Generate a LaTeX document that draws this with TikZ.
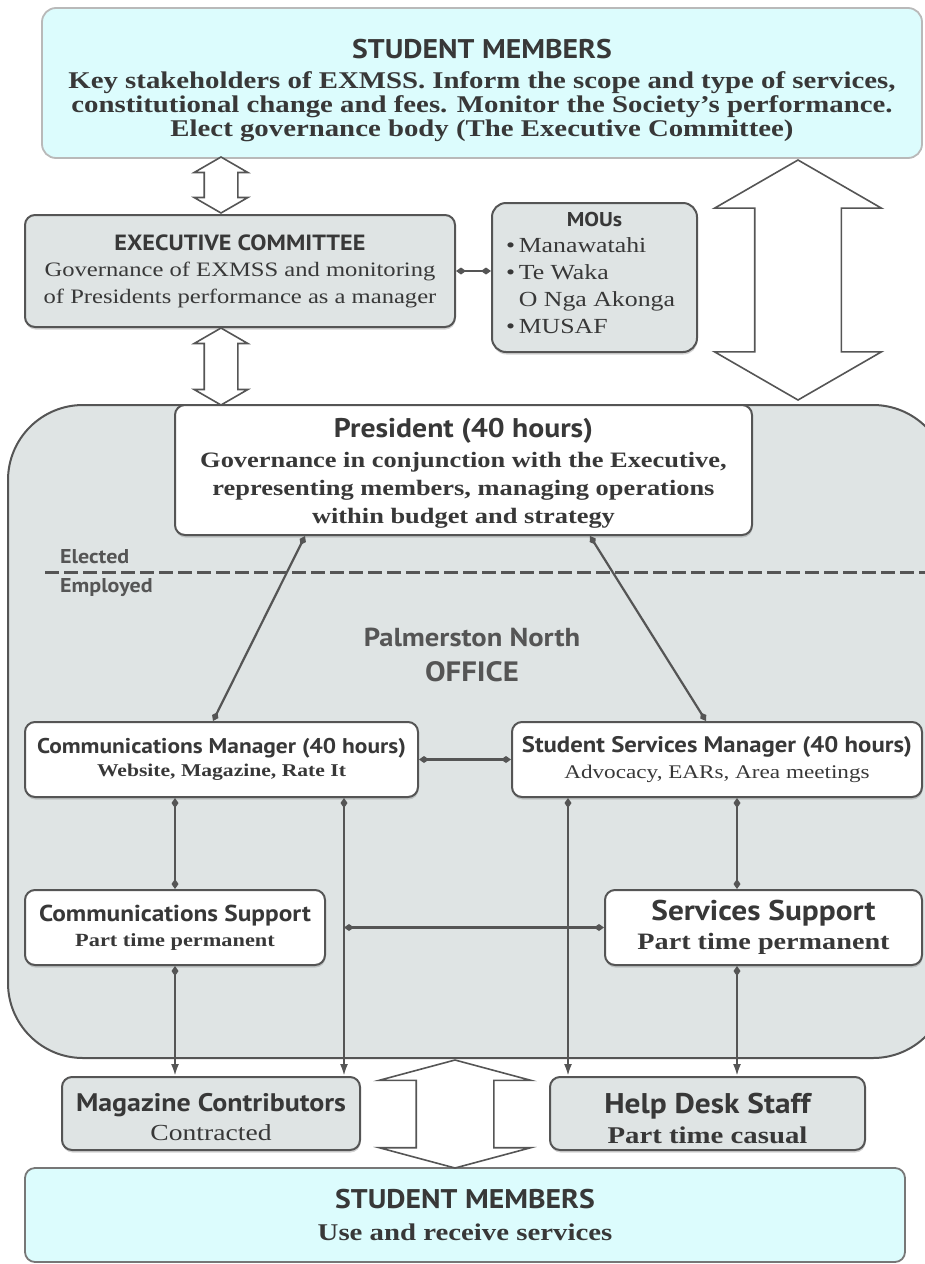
\documentclass[tikz,border=0pt]{standalone}
\usepackage{fontspec}
\setmainfont[FakeStretch=1.2]{Liberation Serif}
\newfontfamily\hdfont[FakeStretch=1.1]{PT Sans}
\usetikzlibrary{positioning,arrows.meta,shapes.arrows,shadows}
\definecolor{memcyan}{HTML}{DCFCFD}
\definecolor{offgray}{HTML}{DFE4E4}
\definecolor{linegray}{HTML}{555555}
\definecolor{txtgray}{HTML}{383838}

\begin{document}
\begin{tikzpicture}[x=1pt,y=-1pt,
  every node/.style={text=txtgray,align=center,inner sep=0pt},
  box/.style={draw=linegray,line width=2pt,rounded corners=10pt,drop shadow={shadow xshift=0.5pt,shadow yshift=-2.5pt,opacity=0.35}},
  graybox/.style={box,fill=offgray},
  whitebox/.style={box,fill=white},
  membox/.style={draw=gray!55,line width=1.8pt,rounded corners=14pt,fill=memcyan},
  txt/.style={font=\fontsize{#1}{#1}\selectfont},
  btxt/.style={font=\bfseries\fontsize{#1}{#1}\selectfont},
  link/.style={draw=linegray,line width=2.2pt,{Diamond[length=10pt,width=7pt]}-{Diamond[length=10pt,width=7pt]}},
  feed/.style={draw=linegray,line width=2.2pt,{Diamond[length=10pt,width=7pt]}-{Latex[length=12pt,width=8pt]}},
  fatarrow/.style={double arrow,draw=linegray,fill=white,line width=1.6pt,rotate=90,inner xsep=0pt,minimum width=0pt}]
\clip (0,0) rectangle (925,1264);

% office background
\node[draw=linegray,fill=offgray,line width=2pt,rounded corners=75pt,minimum width=940pt,minimum height=653pt] (office) at (478,731.5) {};
\node[anchor=west,text=linegray,font=\hdfont\bfseries\fontsize{20}{20}\selectfont] (elected) at (60,557) {Elected};
\node[anchor=west,text=linegray,font=\hdfont\bfseries\fontsize{20}{20}\selectfont] (employed) at (60,588) {Employed};
\draw[linegray,line width=3pt,dash pattern=on 14pt off 5pt] (45,572) coordinate (cutl) -- (925,572) coordinate (cutr);
\node[text=linegray,font=\hdfont\bfseries\fontsize{26}{35}\selectfont] (pnoffice) at (472,655) {Palmerston North\\{\fontsize{28}{35}\selectfont OFFICE}};

% members and governance
\node[membox,minimum width=880pt,minimum height=150pt,btxt=24] (topmem) at (482,83)
  {{\hdfont\fontsize{27}{27}\selectfont\rule{0pt}{34pt}STUDENT MEMBERS}\\[6pt]
   Key stakeholders of EXMSS. Inform the scope and type of services,\\
   constitutional change and fees. Monitor the Society’s performance.\\
   Elect governance body (The Executive Committee)};
\node[graybox,minimum width=430pt,minimum height=112pt,txt=20.5] (exec) at (240,271)
  {{\hdfont\bfseries\fontsize{22}{22}\selectfont EXECUTIVE COMMITTEE}\\[6pt]
   Governance of EXMSS and monitoring\\[6pt]
   of Presidents performance as a manager};
\node[graybox,rounded corners=14pt,minimum width=205pt,minimum height=149pt] (mous) at (594.5,277.5) {};
\node[below=10pt of mous.north,font=\hdfont\bfseries\fontsize{20}{20}\selectfont] (moustitle) {MOUs};
\node[anchor=north west,align=left,font=\fontsize{21.5}{27}\selectfont] (mouslist) at ([xshift=15pt,yshift=-35pt]mous.north west)
  {•\,Manawatahi\\
   •\,Te Waka\\
   \hphantom{•\,}O Nga Akonga\\
   •\,MUSAF};
\draw[link] (exec.east) -- (exec.east -| mous.west);

% office
\node[whitebox,minimum width=577pt,minimum height=130pt,btxt=22] (pres) at (463.5,470)
  {{\hdfont\fontsize{27}{27}\selectfont\rule{0pt}{26pt}President (40 hours)}\\[8pt]
   Governance in conjunction with the Executive,\\[6pt]
   representing members, managing operations\\[6pt]
   within budget and strategy};
\node[whitebox,minimum width=393pt,minimum height=75pt,btxt=18] (cmgr) at (221.5,759.5)
  {{\hdfont\fontsize{21.3}{22}\selectfont Communications Manager (40 hours)}\\[5pt]
   Website, Magazine, Rate It};
\node[whitebox,minimum width=410pt,minimum height=75pt,txt=19.3] (smgr) at (717,759.5)
  {{\hdfont\bfseries\fontsize{22.5}{22}\selectfont Student Services Manager (40 hours)}\\[6pt]
   Advocacy, EARs, Area meetings};
\node[whitebox,minimum width=300pt,minimum height=75pt,btxt=18.6] (csup) at (175,927.5)
  {{\hdfont\fontsize{23}{22}\selectfont Communications Support}\\[6pt]
   Part time permanent};
\node[whitebox,minimum width=317pt,minimum height=75pt,btxt=23.5] (ssup) at (763.5,927.5)
  {{\hdfont\fontsize{28.5}{26}\selectfont Services Support}\\[6pt]
   Part time permanent};
\coordinate (cline) at ([xshift=122.5pt]cmgr.south);
\coordinate (sline) at ([xshift=-149pt]smgr.south);

% outside helpers and members
\node[graybox,minimum width=298pt,minimum height=73pt,txt=23] (mag) at (211,1113.5)
  {{\hdfont\bfseries\fontsize{25.4}{24}\selectfont\rule{0pt}{26pt}Magazine Contributors}\\[6pt]
   Contracted};
\node[graybox,minimum width=315pt,minimum height=73pt,btxt=24] (help) at (707.5,1113.5)
  {{\hdfont\fontsize{28.5}{26}\selectfont\rule{0pt}{30pt}Help Desk Staff}\\[6pt]
   Part time casual};
\node[membox,draw=linegray!80,rounded corners=10pt,minimum width=880pt,minimum height=94pt,btxt=24] (botmem) at (465,1215)
  {{\hdfont\fontsize{27}{26}\selectfont STUDENT MEMBERS}\\[8pt]
   Use and receive services};

% connectors
\draw[link] ([xshift=-158.5pt]pres.south) -- ([xshift=-8.5pt]cmgr.north);
\draw[link] ([xshift=126.5pt]pres.south) -- ([xshift=-11pt]smgr.north);
\draw[link] (cmgr.east) -- (smgr.west);
\draw[link] (csup.north |- cmgr.south) -- (csup.north);
\draw[link] ([xshift=20pt]smgr.south) -- ([xshift=-26.5pt]ssup.north);
\draw[link] (ssup.west -| cline) -- (ssup.west);
\draw[feed] (cline) -- (mag.north -| cline);
\draw[feed] (sline) -- (help.north -| sline);
\draw[feed] (csup.south) -- (mag.north -| csup.south);
\draw[feed] ([xshift=-26.5pt]ssup.south) -- ([xshift=29.5pt]help.north);

% hollow double arrows
\node[fatarrow,minimum height=56pt,inner ysep=16pt,double arrow head extend=10pt,double arrow tip angle=120] (upper) at (221,185) {};
\node[fatarrow,minimum height=77pt,inner ysep=16pt,double arrow head extend=10pt,double arrow tip angle=120] (lower) at (221,366.5) {};
\node[fatarrow,minimum height=240pt,inner ysep=42.5pt,double arrow head extend=40pt,double arrow tip angle=120] (direct) at (798,280) {};
\node[fatarrow,minimum height=108pt,inner ysep=38pt,double arrow head extend=37pt,double arrow tip angle=150] (service) at (455,1114) {};
\end{tikzpicture}
\end{document}
